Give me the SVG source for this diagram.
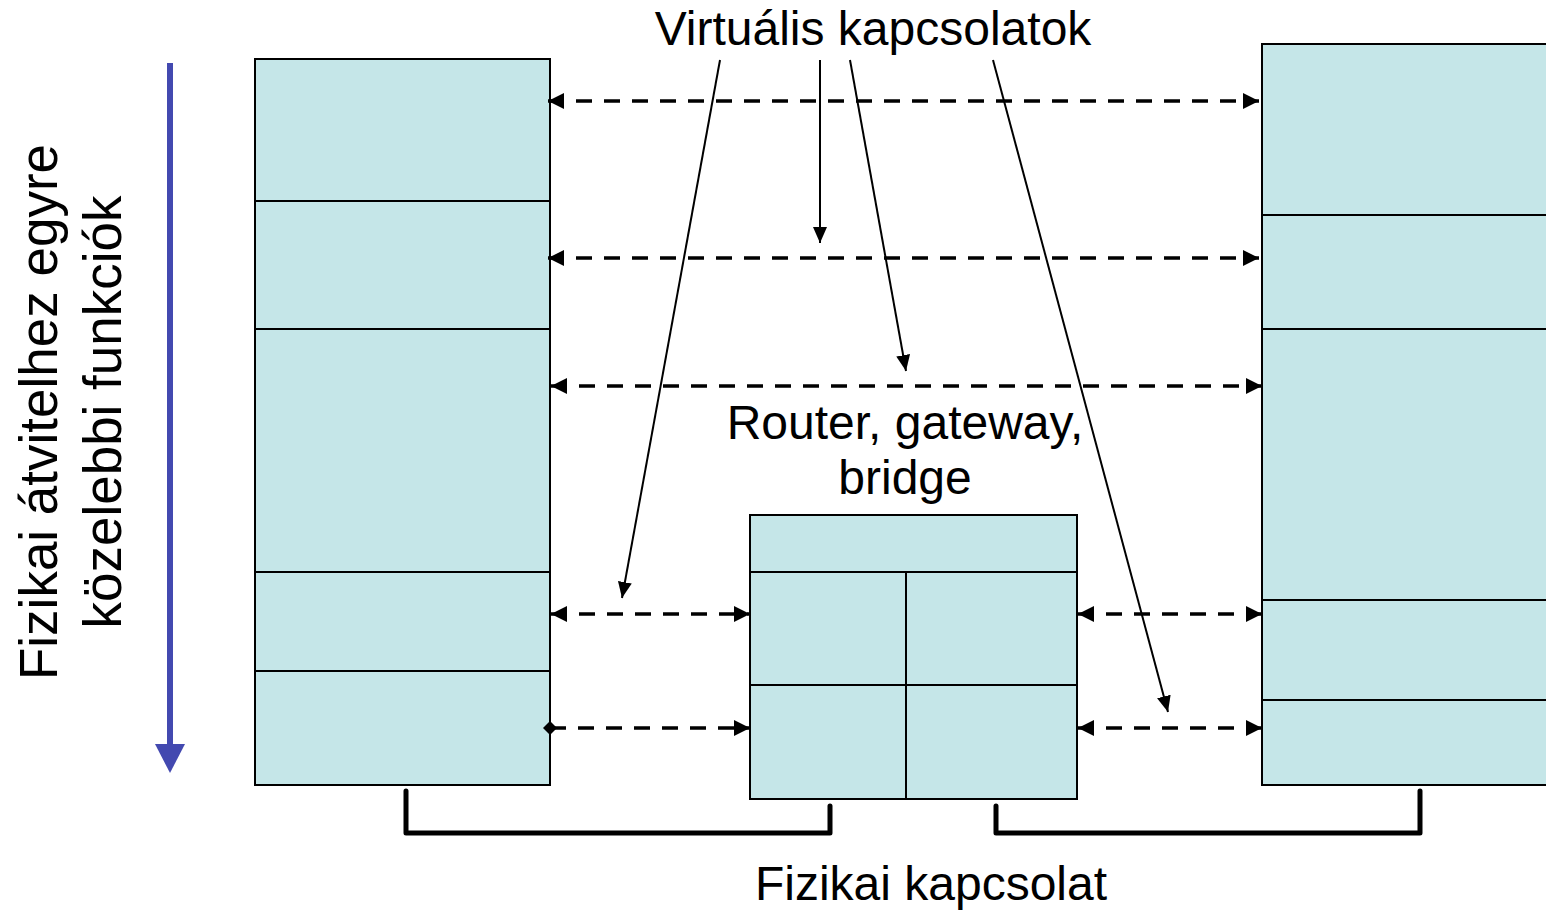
<svg xmlns="http://www.w3.org/2000/svg" width="1546" height="911" viewBox="0 0 1546 911">
  <style>
    .box { fill: #c5e6e8; stroke: #000; stroke-width: 2; }
    .div { stroke: #000; stroke-width: 2; fill: none; }
    .virt { stroke: #000; stroke-width: 3.5; stroke-dasharray: 16 12; fill: none; }
    .ptr { stroke: #000; stroke-width: 2; fill: none; }
    .phys { stroke: #000; stroke-width: 5; fill: none; stroke-linejoin: round; stroke-linecap: round; }
    .lbl { font-family: "Liberation Sans", Arial, sans-serif; font-size: 48px; fill: #000; }
    .side { font-size: 53px; }
  </style>
  <defs>
    <marker id="ah" viewBox="0 0 16 16" refX="16" refY="8" markerWidth="16" markerHeight="16" markerUnits="userSpaceOnUse" orient="auto-start-reverse">
      <path d="M0,0 L16,8 L0,16 Z" fill="#000"/>
    </marker>
    <marker id="ahs" viewBox="0 0 16 14" refX="16" refY="7" markerWidth="16" markerHeight="14" markerUnits="userSpaceOnUse" orient="auto">
      <path d="M0,0 L16,7 L0,14 Z" fill="#000"/>
    </marker>
    <marker id="dia" viewBox="0 0 14 14" refX="7" refY="7" markerWidth="14" markerHeight="14" markerUnits="userSpaceOnUse">
      <path d="M7,0 L14,7 L7,14 L0,7 Z" fill="#000"/>
    </marker>
  </defs>

  <rect width="1546" height="911" fill="#fff"/>

  <!-- direction arrow and side caption -->
  <g id="direction">
    <line x1="170" y1="63" x2="170" y2="748" stroke="#4349b0" stroke-width="6"/>
    <path d="M155,744 L185,744 L170,773 Z" fill="#4349b0"/>
    <text class="lbl side" transform="translate(57,412) rotate(-90)" text-anchor="middle">Fizikai átvitelhez egyre</text>
    <text class="lbl side" transform="translate(121,412) rotate(-90)" text-anchor="middle">közelebbi funkciók</text>
  </g>

  <!-- left end system -->
  <g id="left-stack">
    <rect class="box" x="255" y="59" width="295" height="726"/>
    <path class="div" d="M255,201 H550 M255,329 H550 M255,572 H550 M255,671 H550"/>
  </g>

  <!-- right end system -->
  <g id="right-stack">
    <rect class="box" x="1262" y="44" width="300" height="741"/>
    <path class="div" d="M1262,215 H1546 M1262,329 H1546 M1262,600 H1546 M1262,700 H1546"/>
  </g>

  <!-- intermediate node -->
  <g id="router">
    <rect class="box" x="750" y="515" width="327" height="284"/>
    <path class="div" d="M750,572 H1077 M750,685 H1077 M906,572 V799"/>
    <text class="lbl" x="905" y="439" text-anchor="middle">Router, gateway,</text>
    <text class="lbl" x="905" y="494" text-anchor="middle">bridge</text>
  </g>

  <g id="virtual-label">
    <text class="lbl" x="873" y="45" text-anchor="middle">Virtuális kapcsolatok</text>
  </g>

  <g id="physical-label">
    <text class="lbl" x="931" y="900" text-anchor="middle">Fizikai kapcsolat</text>
  </g>

  <!-- connectors -->
  <g id="connectors">
    <line class="virt" x1="548" y1="101" x2="1259" y2="101" marker-start="url(#ah)" marker-end="url(#ah)"/>
    <line class="virt" x1="548" y1="258" x2="1259" y2="258" marker-start="url(#ah)" marker-end="url(#ah)"/>
    <line class="virt" x1="551" y1="386" x2="1262" y2="386" marker-start="url(#ah)" marker-end="url(#ah)"/>
    <line class="virt" x1="551" y1="614" x2="750" y2="614" marker-start="url(#ah)" marker-end="url(#ah)"/>
    <line class="virt" x1="1078" y1="614" x2="1262" y2="614" marker-start="url(#ah)" marker-end="url(#ah)"/>
    <line class="virt" x1="550" y1="728" x2="750" y2="728" marker-start="url(#dia)" marker-end="url(#ah)"/>
    <line class="virt" x1="1078" y1="728" x2="1262" y2="728" marker-start="url(#ah)" marker-end="url(#ah)"/>

    <line class="ptr" x1="720" y1="60" x2="622" y2="598" marker-end="url(#ahs)"/>
    <line class="ptr" x1="820" y1="60" x2="820" y2="243" marker-end="url(#ahs)"/>
    <line class="ptr" x1="850" y1="60" x2="906" y2="371" marker-end="url(#ahs)"/>
    <line class="ptr" x1="993" y1="60" x2="1168" y2="712" marker-end="url(#ahs)"/>

    <path class="phys" d="M406,791 V833 H830 V806"/>
    <path class="phys" d="M996,806 V833 H1420 V791"/>
  </g>
</svg>
